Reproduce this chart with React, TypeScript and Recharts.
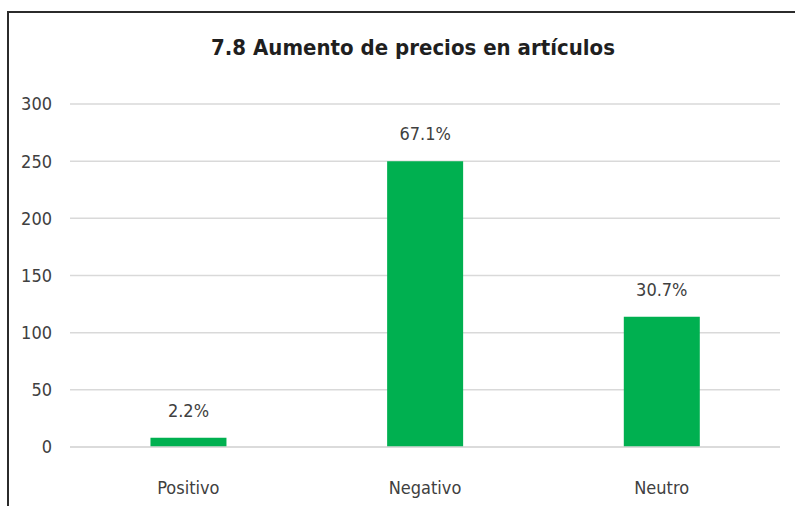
import { Bar, BarChart, CartesianGrid, LabelList, XAxis, YAxis } from "recharts";

const categories = ["Positivo", "Negativo", "Neutro"];
const counts = [8, 250, 114];
const percentLabels = ["2.2%", "67.1%", "30.7%"];
const yTicks = [0, 50, 100, 150, 200, 250, 300];

const FONT = '"DejaVu Sans Condensed", "Liberation Sans", sans-serif';

const data = categories.map((name, i) => ({
  name,
  value: counts[i],
  label: percentLabels[i],
}));

export default function App() {
  return (
    <div
      style={{
        position: "absolute",
        left: 0,
        top: 0,
        width: 795,
        height: 506,
        background: "#fff",
        overflow: "hidden",
        fontFamily: FONT,
      }}
    >
      <div
        style={{
          position: "absolute",
          left: 7,
          top: 11,
          width: 820,
          height: 520,
          borderLeft: "2px solid #2b2b2b",
          borderTop: "2px solid #2b2b2b",
        }}
      />
      <div
        style={{
          position: "absolute",
          left: 0,
          top: 35,
          width: 826,
          textAlign: "center",
          fontSize: 22,
          fontWeight: "bold",
          color: "#1f1f1f",
        }}
      >
        7.8 Aumento de precios en artículos
      </div>
      <BarChart
        width={795}
        height={506}
        data={data}
        margin={{ top: 104, right: 15, bottom: 0, left: 0 }}
        barCategoryGap="34%"
        style={{ position: "absolute", left: 0, top: 0 }}
      >
        <CartesianGrid vertical={false} stroke="#d9d9d9" strokeWidth={1.5} />
        <XAxis
          dataKey="name"
          height={59}
          axisLine={{ stroke: "#d9d9d9", strokeWidth: 1.5 }}
          tickLine={false}
          tickMargin={28}
          tick={{ fill: "#404040", fontSize: 18, fontFamily: FONT }}
        />
        <YAxis
          width={70}
          domain={[0, 300]}
          ticks={yTicks}
          axisLine={false}
          tickLine={false}
          tickMargin={12}
          tick={{ fill: "#404040", fontSize: 18, fontFamily: FONT }}
        />
        <Bar dataKey="value" fill="#00b050" isAnimationActive={false}>
          <LabelList
            dataKey="label"
            position="top"
            offset={21}
            fill="#404040"
            fontSize={18}
            fontFamily={FONT}
          />
        </Bar>
      </BarChart>
    </div>
  );
}
